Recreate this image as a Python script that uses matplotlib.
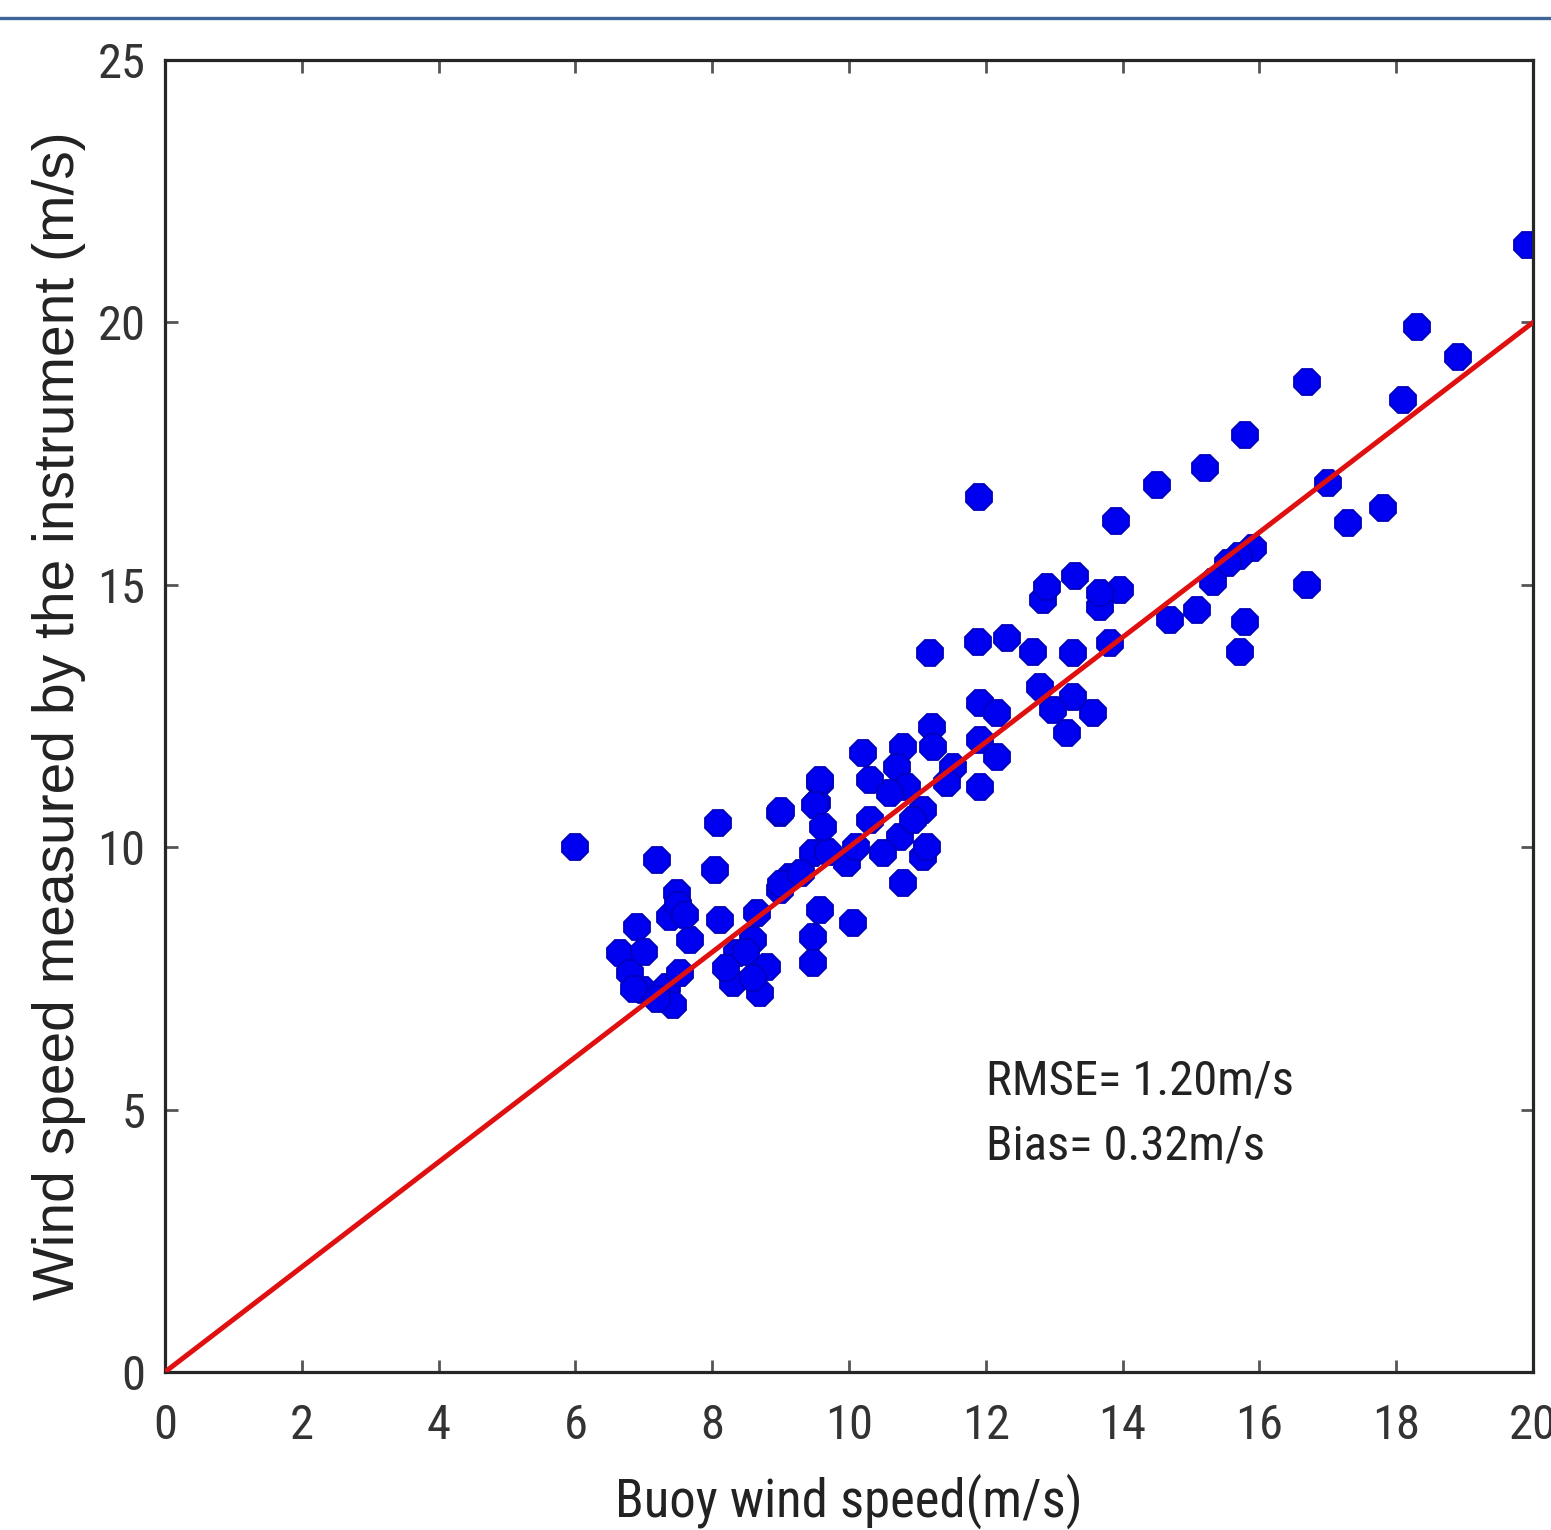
import matplotlib
matplotlib.use('Agg')
import matplotlib.pyplot as plt
from matplotlib import font_manager
from matplotlib.font_manager import FontProperties
from matplotlib.lines import Line2D

# buoy wind speed (x) vs instrument wind speed (y)
buoy_speed = [
    6.0, 8.08, 8.99, 7.19, 8.04, 9.58, 9.53, 10.75, 10.5, 11.08,
    10.79, 9.97, 9.47, 9.14, 8.99, 7.49, 7.38, 7.68, 6.90, 6.65,
    6.80, 6.99, 7.34, 7.43, 7.53, 8.11, 8.65, 8.80, 8.70, 8.30,
    8.36, 8.6, 9.58, 10.06, 9.47, 9.47, 11.14, 7.0, 6.85, 7.2,
    8.2, 8.5, 8.6, 7.5, 7.6, 9.0, 9.3, 9.7, 10.1,
    11.18, 11.89, 12.31, 12.69, 13.27, 12.84, 12.89, 13.30, 13.67, 13.96,
    13.67, 14.69, 13.82, 12.79, 13.27, 13.57, 12.98, 13.19, 11.92, 12.16,
    11.92, 12.16, 11.92, 11.21, 11.23, 11.52, 11.43, 11.08, 10.79, 10.70,
    10.85, 10.20, 10.31, 9.58, 9.50, 9.62, 9.0, 10.31, 10.94, 10.6,
    19.91, 18.30, 18.90, 18.10, 16.70, 15.79, 15.20, 14.50, 17.00, 17.30,
    17.81, 13.90, 11.90, 15.91, 15.70, 15.54, 15.32, 15.09, 16.70, 15.79,
    15.72,
]
instrument_speed = [
    10.0, 10.46, 10.65, 9.76, 9.57, 11.22, 10.84, 10.19, 9.89, 9.81,
    9.32, 9.70, 9.89, 9.44, 9.18, 9.13, 8.67, 8.23, 8.48, 7.98,
    7.60, 7.28, 7.34, 7.0, 7.60, 8.61, 8.75, 7.72, 7.22, 7.41,
    7.98, 8.23, 8.80, 8.56, 8.29, 7.79, 10.0, 8.0, 7.3, 7.1,
    7.7, 8.0, 7.5, 8.9, 8.7, 9.3, 9.5, 9.9, 10.0,
    13.70, 13.91, 13.99, 13.72, 13.70, 14.71, 14.96, 15.17, 14.58, 14.90,
    14.84, 14.33, 13.89, 13.05, 12.86, 12.56, 12.61, 12.18, 12.75, 12.56,
    12.04, 11.72, 11.15, 12.29, 11.91, 11.53, 11.22, 10.71, 11.91, 11.53,
    11.15, 11.79, 11.28, 11.28, 10.80, 10.38, 10.68, 10.52, 10.52, 11.03,
    21.47, 19.91, 19.34, 18.52, 18.86, 17.85, 17.22, 16.90, 16.94, 16.18,
    16.46, 16.22, 16.67, 15.70, 15.55, 15.42, 15.05, 14.52, 15.00, 14.29,
    13.72,
]

ref_line = [0, 20]
x_ticks = [0, 2, 4, 6, 8, 10, 12, 14, 16, 18, 20]
y_ticks = [0, 5, 10, 15, 20, 25]
stats_text = ['RMSE= 1.20m/s', 'Bias= 0.32m/s']


def find_narrow_font():
    # look for a condensed sans face; MATLAB-style labels are narrow
    fonts = font_manager.fontManager.ttflist
    prefs = ['Liberation Sans Narrow', 'Arial Narrow', 'Roboto Condensed',
             'Open Sans Condensed', 'Noto Sans Condensed', 'DejaVu Sans Condensed']
    for name in prefs:
        for f in fonts:
            if f.name == name and f.style == 'normal' and f.weight in (400, 'normal', 'regular'):
                return f.fname
    for f in fonts:
        if f.style != 'normal' or f.weight not in (400, 'normal', 'regular'):
            continue
        if 'Condensed' in f.fname or 'Narrow' in f.fname or f.stretch in ('condensed', 'semi-condensed'):
            if 'Bold' in f.fname or 'Italic' in f.fname or 'Oblique' in f.fname:
                continue
            return f.fname
    return None


narrow_file = find_narrow_font()
if narrow_file:
    def narrow(size):
        return FontProperties(fname=narrow_file, size=size)
    tick_size, text_size, xlab_size = 35, 35, 38
else:
    def narrow(size):
        return FontProperties(family='Liberation Sans', size=size)
    tick_size, text_size, xlab_size = 31, 31, 34

fig = plt.figure(figsize=(15.51, 15.30), dpi=100)
ax = fig.add_axes([0.1064, 0.1033, 0.882, 0.8575])

# thin blue rule across the top of the page
fig.add_artist(Line2D([0, 1], [1 - 18 / 1530, 1 - 18 / 1530], transform=fig.transFigure,
                      color='#3d6599', linewidth=2.4))

ax.plot(buoy_speed, instrument_speed, linestyle='none', marker='8', markersize=19.5,
        color='#0000f0', markeredgecolor='#0000c0', markeredgewidth=1.3, zorder=2)
ax.plot(ref_line, ref_line, color='#e01010', linewidth=3.6, zorder=3)

ax.text(12.0, 5.28, stats_text[0], fontproperties=narrow(text_size), color='#222222',
        va='baseline', ha='left')
ax.text(12.0, 4.04, stats_text[1], fontproperties=narrow(text_size), color='#222222',
        va='baseline', ha='left')

ax.set_xlim(0, 20)
ax.set_ylim(0, 25)
ax.set_xticks(x_ticks)
ax.set_yticks(y_ticks)
ax.tick_params(direction='in', length=9, width=2, colors='#555555', labelcolor='#333333',
               top=True, right=True)
ax.tick_params(axis='x', pad=22)
ax.tick_params(axis='y', pad=14)
for lab in ax.get_xticklabels() + ax.get_yticklabels():
    lab.set_fontproperties(narrow(tick_size))

for side in ax.spines.values():
    side.set_linewidth(2.3)
    side.set_color('#262626')

ax.set_xlabel('Buoy wind speed(m/s)', fontproperties=narrow(xlab_size), color='#222222',
              labelpad=18)
ax.set_ylabel('Wind speed measured by the instrument (m/s)', fontsize=41, color='#222222',
              labelpad=8, family=['Liberation Sans'])

fig.savefig('out.png', dpi=100)
